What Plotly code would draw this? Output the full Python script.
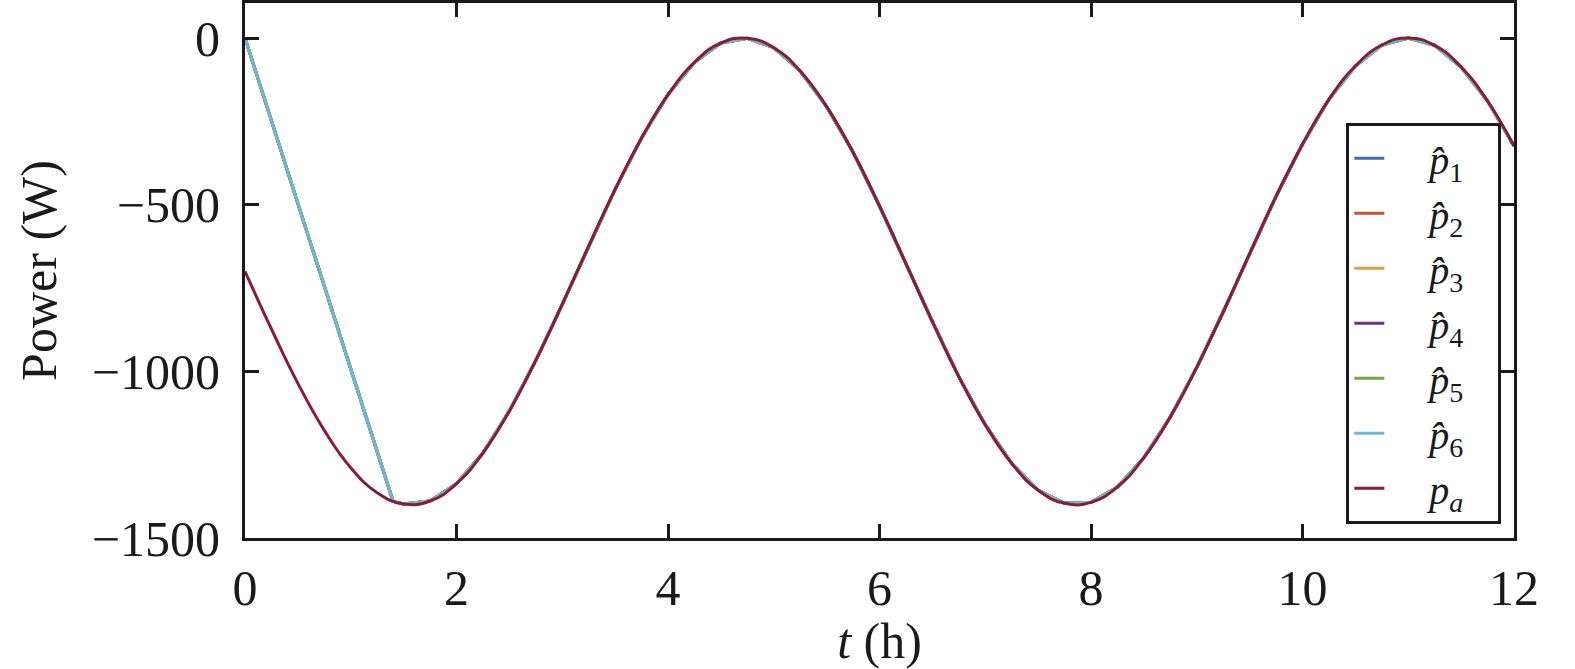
import plotly.graph_objects as go

# time samples (h)
t = [0.0, 0.25, 0.5, 0.75, 1.0, 1.25, 1.5, 1.75, 2.0, 2.25, 2.5, 2.75, 3.0, 3.25, 3.5, 3.75,
     4.0, 4.25, 4.5, 4.75, 5.0, 5.25, 5.5, 5.75, 6.0, 6.25, 6.5, 6.75, 7.0, 7.25, 7.5, 7.75,
     8.0, 8.25, 8.5, 8.75, 9.0, 9.25, 9.5, 9.75, 10.0, 10.25, 10.5, 10.75, 11.0, 11.25, 11.5,
     11.75, 12.0]
p_a = [-700, -873, -1036, -1177, -1289, -1364, -1398, -1389, -1337, -1245, -1119, -967, -799,
       -624, -454, -300, -170, -73, -15, -1, -29, -99, -206, -343, -504, -677, -851, -1016,
       -1160, -1276, -1357, -1396, -1393, -1347, -1259, -1137, -988, -822, -647, -475, -319,
       -184, -84, -21, 0, -22, -87, -189, -324]

# estimates p_hat_1..6: start at 0, converge to p_a around t = 1.4 h
est_t_start = [0.0, 1.4]
est_p_start = [0, -1390]
est_t = est_t_start + t[6:]
est_p = est_p_start + p_a[6:]

labels = ["<i>p\u0302</i><sub>1</sub>", "<i>p\u0302</i><sub>2</sub>", "<i>p\u0302</i><sub>3</sub>",
          "<i>p\u0302</i><sub>4</sub>", "<i>p\u0302</i><sub>5</sub>", "<i>p\u0302</i><sub>6</sub>"]
label_a = "<i>p</i><sub><i>a</i></sub>"
colors = ["#3f6fb0", "#c9502a", "#dca23a", "#6e2f8c", "#72a844", "#6bb8d8"]

xticks = [0, 2, 4, 6, 8, 10, 12]
yticks = [-1500, -1000, -500, 0]

LPAD = "\u00a0" * 4
RPAD = "\u00a0" * 3

fig = go.Figure()
for lab, col in zip(labels, colors):
    fig.add_trace(go.Scatter(x=est_t, y=est_p, mode="lines", name=LPAD + lab + RPAD,
                             line=dict(color=col, width=3)))
fig.add_trace(go.Scatter(x=t, y=p_a, mode="lines", name=LPAD + label_a + RPAD,
                         line=dict(color="#8b1c35", width=3, shape="spline", smoothing=1.3)))

FAM = "Liberation Serif, Times New Roman, serif"
font = dict(family=FAM, size=50, color="#1a1a1a")
axis_common = dict(showline=True, linecolor="#1a1a1a", linewidth=3, mirror="ticks",
                   ticks="inside", ticklen=14, tickwidth=3, tickcolor="#1a1a1a",
                   showgrid=False, zeroline=False, tickfont=font, automargin=False)

fig.update_layout(
    width=1575, height=669,
    margin=dict(l=245, r=61, t=3, b=131),
    paper_bgcolor="white", plot_bgcolor="white",
    font=font,
    showlegend=True,
    legend=dict(x=0.99, y=0.776, xanchor="right", yanchor="top",
                bordercolor="#1a1a1a", borderwidth=3, bgcolor="white",
                font=dict(family=FAM, size=40, color="#1a1a1a"),
                tracegroupgap=0),
)
fig.update_xaxes(range=[0, 12], tickvals=xticks, title=dict(text="<i>t</i> (h)", font=font, standoff=0),
                 ticklabelstandoff=4, **axis_common)
fig.update_yaxes(range=[-1500, 105], tickvals=yticks, title=dict(text="Power (W)", font=font, standoff=20),
                 ticklabelstandoff=12, **axis_common)

fig.write_html("out.html", config={"displayModeBar": False},
               post_script="document.body.style.margin='0';document.body.style.padding='0';")
